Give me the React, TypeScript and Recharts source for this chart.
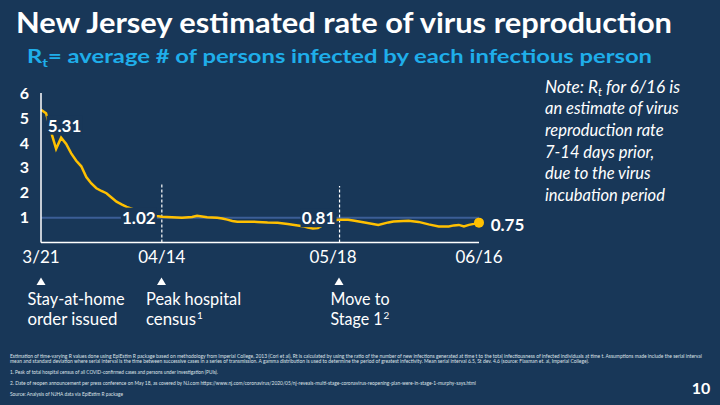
import React from 'react';
import { LineChart, Line, XAxis, YAxis, ReferenceLine } from 'recharts';

// days since 3/21 and the Rt estimate
const days = [
  0, 1, 2, 3, 4, 5, 6, 7, 8, 9, 10, 11, 12, 13, 14, 15, 16, 17, 18, 19, 20, 21, 22, 23, 24,
  26, 28, 30, 31, 33, 35, 36, 37, 38, 39, 41, 43, 45, 47, 49, 51, 52, 53, 54, 55, 56, 57, 58,
  59, 61, 62, 64, 67, 69, 70, 72, 73, 75, 77, 79, 81, 82, 83, 84, 85, 86, 87,
];
const rtValues = [
  5.33, 5.19, 4.44, 3.76, 4.21, 3.96, 3.58, 3.28, 3.06, 2.63, 2.37, 2.18, 2.07, 1.98, 1.81, 1.64, 1.53, 1.43, 1.36, 1.29, 1.22, 1.16, 1.11, 1.07, 1.04,
  1.02, 1.0, 1.03, 1.08, 1.02, 1.0, 0.97, 0.92, 0.87, 0.84, 0.84, 0.83, 0.81, 0.8, 0.75, 0.69, 0.66, 0.6, 0.57, 0.58, 0.7, 0.8, 0.88,
  0.92, 0.92, 0.89, 0.82, 0.71, 0.81, 0.85, 0.87, 0.88, 0.83, 0.73, 0.65, 0.65, 0.69, 0.71, 0.65, 0.71, 0.75, 0.8,
];

const tickDays = [0, 24, 58, 87];
const tickLabels = ['3/21', '04/14', '05/18', '06/16'];
const yTicks = [1, 2, 3, 4, 5, 6];

// dashed markers (peak census, stage 1) and their heights
const markerDays = [24, 59.3];
const markerTops = [2.4, 2.27];

const calloutDays = [1, 24, 59, 87];
const calloutTexts = ['5.31', '1.02', '0.81', '0.75'];

const noteLines = [
  'an estimate of virus',
  'reproduction rate',
  '7-14 days prior,',
  'due to the virus',
  'incubation period',
];

const eventDays = ['3/21', '04/14', '05/18'];
const eventLines = [
  ['Stay-at-home', 'order issued'],
  ['Peak hospital', 'census'],
  ['Move to', 'Stage 1'],
];
const eventSups = [
  ['', ''],
  ['', '1'],
  ['', '2'],
];

const footnotes = [
  'Estimation of time-varying R values done using EpiEstim R package based on methodology from Imperial College, 2013 (Cori et al).    Rt is calculated by using the ratio of the number of new infections generated at time t to the total infectiousness of infected individuals at time t.  Assumptions made include the serial interval',
  'mean and standard deviation where serial interval is the time between successive cases in a series of transmission.  A gamma distribution is used to determine the period of greatest infectivity.  Mean serial interval 6.5, St dev. 4.6 (source: Flaxman et. al, Imperial College).',
  '1. Peak of total hospital census of all COVID-confirmed cases and persons under investigation (PUIs).',
  '2. Date of reopen announcement per press conference on May 18, as covered by NJ.com https://www.nj.com/coronavirus/2020/05/nj-reveals-multi-stage-coronavirus-reopening-plan-were-in-stage-1-murphy-says.html',
  'Source: Analysis of NJHA data via EpiEstim R package',
];

const BG = '#183758';
const GOLD = '#FFC000';
const FONT = 'Lato, "Open Sans", sans-serif';

const data = days.map((d, i) => ({ day: d, rt: rtValues[i] }));

const calloutOffsets = [
  { dx: 18.5, dy: 12 },
  { dx: -23, dy: 0.5 },
  { dx: -19.5, dy: -2 },
  { dx: 28.5, dy: 1.5 },
];

// layout of the annotation block under the axis
const eventArrowX = [41, 161.5, 339];
const eventTextX = [27.5, 146, 330.5];
const eventWidths = [
  [97, 90],
  [95, 50],
  [59, 52],
];
const footY = [357.5, 363, 374, 385, 396];
const footW = [692, 579, 208, 466, 113];

const renderCallout = (props: any) => {
  const { cx, cy, index } = props;
  const k = calloutDays.indexOf(days[index]);
  if (k < 0 || cx == null) return <g key={`c-${index}`} />;
  const { dx, dy } = calloutOffsets[k];
  const tx = cx + dx;
  const ty = cy + dy;
  const last = k === calloutDays.length - 1;
  return (
    <g key={`c-${index}`}>
      {!last && <rect x={tx - 18} y={ty - 9.5} width={36} height={19} fill={BG} />}
      {last && <circle cx={cx} cy={cy} r={5} fill={GOLD} />}
      <text
        x={tx}
        y={ty}
        textAnchor="middle"
        dominantBaseline="central"
        fill="#fff"
        fontFamily={FONT}
        fontWeight={700}
        fontSize={17}
      >
        {calloutTexts[k]}
      </text>
    </g>
  );
};

export default function App() {
  return (
    <div
      style={{
        position: 'fixed',
        left: 0,
        top: 0,
        width: 720,
        height: 405,
        background: BG,
        overflow: 'hidden',
        fontFamily: FONT,
      }}
    >
      <svg width={720} height={405} style={{ position: 'absolute', left: 0, top: 0 }}>
        <text x={16} y={33} fill="#fff" fontWeight={700} fontSize={29} textLength={656} lengthAdjust="spacingAndGlyphs">
          New Jersey estimated rate of virus reproduction
        </text>
        <text x={27} y={63} fill="#1FAEEA" fontWeight={700} fontSize={18.5} textLength={625} lengthAdjust="spacingAndGlyphs">
          R<tspan fontSize={12} dy={4}>t</tspan>
          <tspan dy={-4}>= average # of persons infected by each infectious person</tspan>
        </text>

        <g fill="#fff" fontStyle="italic" fontSize={16.5}>
          <text x={545} y={92.7} textLength={135} lengthAdjust="spacingAndGlyphs">
            Note: R<tspan fontSize={11} dy={3}>t</tspan>
            <tspan dy={-3}> for 6/16 is</tspan>
          </text>
          {noteLines.map((t, i) => (
            <text key={t} x={545} y={114.3 + i * 21.6}>
              {t}
            </text>
          ))}
        </g>

        {eventDays.map((d, i) => (
          <g key={d} fill="#fff">
            <polygon points={`${eventArrowX[i] - 4.5},285 ${eventArrowX[i] + 4.5},285 ${eventArrowX[i]},277.5`} />
            {eventLines[i].map((l, j) => (
              <g key={l}>
                <text
                  x={eventTextX[i]}
                  y={305 + j * 19.5}
                  fontSize={16.5}
                  textLength={eventWidths[i][j]}
                  lengthAdjust="spacingAndGlyphs"
                >
                  {l}
                </text>
                {eventSups[i][j] && (
                  <text x={eventTextX[i] + eventWidths[i][j] + 1} y={305 + j * 19.5 - 6} fontSize={10}>
                    {eventSups[i][j]}
                  </text>
                )}
              </g>
            ))}
          </g>
        ))}

        <g fill="#dfe3e8" fontSize={5}>
          {footnotes.map((t, i) => (
            <text key={i} x={10} y={footY[i]} textLength={footW[i]} lengthAdjust="spacingAndGlyphs">
              {t}
            </text>
          ))}
        </g>
        <text x={701} y={394} textAnchor="middle" fill="#fff" fontWeight={700} fontSize={16}>
          10
        </text>
      </svg>

      <div style={{ position: 'absolute', left: 0, top: 0 }}>
        <LineChart width={720} height={405} data={data} margin={{ top: 93, right: 241, bottom: 132.4, left: 0 }}>
          <XAxis
            dataKey="day"
            type="number"
            domain={[0, 87]}
            ticks={tickDays}
            tickFormatter={(v: number) => tickLabels[tickDays.indexOf(v)]}
            height={30}
            axisLine={{ stroke: '#fff', strokeWidth: 1.5 }}
            tickLine={false}
            tickSize={0}
            tickMargin={8}
            interval={0}
            tick={{ fill: '#fff', fontSize: 17, fontFamily: FONT }}
          />
          <YAxis
            type="number"
            domain={[0, 6]}
            ticks={yTicks}
            width={41}
            axisLine={{ stroke: '#fff', strokeWidth: 1.5 }}
            tickLine={false}
            tickSize={0}
            tickMargin={12}
            interval={0}
            tick={{ fill: '#fff', fontSize: 16, fontWeight: 700, fontFamily: FONT }}
          />
          <ReferenceLine y={1} stroke="#3B5E96" strokeWidth={2} />
          {markerDays.map((d, i) => (
            <ReferenceLine
              key={d}
              segment={[
                { x: d, y: 0 },
                { x: d, y: markerTops[i] },
              ]}
              stroke="#fff"
              strokeWidth={1.2}
              strokeDasharray="3 2"
            />
          ))}
          <Line
            type="linear"
            dataKey="rt"
            stroke={GOLD}
            strokeWidth={2.5}
            dot={false}
            activeDot={false}
            isAnimationActive={false}
          />
          <Line
            type="linear"
            dataKey="rt"
            stroke="none"
            dot={renderCallout}
            activeDot={false}
            isAnimationActive={false}
          />
        </LineChart>
      </div>
    </div>
  );
}
